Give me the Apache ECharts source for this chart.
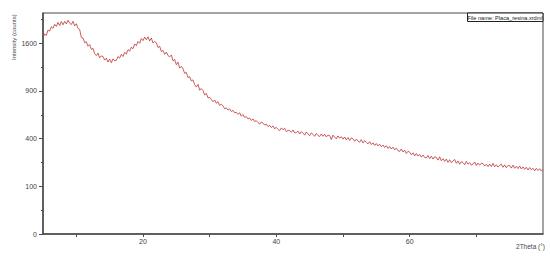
<!DOCTYPE html>
<html>
<head>
<meta charset="utf-8">
<script src="https://cdn.jsdelivr.net/npm/echarts@6/dist/echarts.min.js"></script>
<style>
  html, body { margin: 0; padding: 0; background: #fff; }
  #chart { width: 550px; height: 258px; }
</style>
</head>
<body>
<div id="chart"></div>
<script>
// scan positions (degrees 2Theta), one row per degree
var twoTheta = [
  5, 5.25, 5.5, 5.75, 6, 6.25, 6.5, 6.75, 7, 7.25, 7.5, 7.75, 8, 8.25, 8.5, 8.75, 9, 9.25, 9.5, 9.75,
  10, 10.25, 10.5, 10.75, 11, 11.25, 11.5, 11.75, 12, 12.25, 12.5, 12.75, 13, 13.25, 13.5, 13.75, 14, 14.25, 14.5, 14.75,
  15, 15.25, 15.5, 15.75, 16, 16.25, 16.5, 16.75, 17, 17.25, 17.5, 17.75, 18, 18.25, 18.5, 18.75, 19, 19.25, 19.5, 19.75,
  20, 20.25, 20.5, 20.75, 21, 21.25, 21.5, 21.75, 22, 22.25, 22.5, 22.75, 23, 23.25, 23.5, 23.75, 24, 24.25, 24.5, 24.75,
  25, 25.25, 25.5, 25.75, 26, 26.25, 26.5, 26.75, 27, 27.25, 27.5, 27.75, 28, 28.25, 28.5, 28.75, 29, 29.25, 29.5, 29.75,
  30, 30.25, 30.5, 30.75, 31, 31.25, 31.5, 31.75, 32, 32.25, 32.5, 32.75, 33, 33.25, 33.5, 33.75, 34, 34.25, 34.5, 34.75,
  35, 35.25, 35.5, 35.75, 36, 36.25, 36.5, 36.75, 37, 37.25, 37.5, 37.75, 38, 38.25, 38.5, 38.75, 39, 39.25, 39.5, 39.75,
  40, 40.25, 40.5, 40.75, 41, 41.25, 41.5, 41.75, 42, 42.25, 42.5, 42.75, 43, 43.25, 43.5, 43.75, 44, 44.25, 44.5, 44.75,
  45, 45.25, 45.5, 45.75, 46, 46.25, 46.5, 46.75, 47, 47.25, 47.5, 47.75, 48, 48.25, 48.5, 48.75, 49, 49.25, 49.5, 49.75,
  50, 50.25, 50.5, 50.75, 51, 51.25, 51.5, 51.75, 52, 52.25, 52.5, 52.75, 53, 53.25, 53.5, 53.75, 54, 54.25, 54.5, 54.75,
  55, 55.25, 55.5, 55.75, 56, 56.25, 56.5, 56.75, 57, 57.25, 57.5, 57.75, 58, 58.25, 58.5, 58.75, 59, 59.25, 59.5, 59.75,
  60, 60.25, 60.5, 60.75, 61, 61.25, 61.5, 61.75, 62, 62.25, 62.5, 62.75, 63, 63.25, 63.5, 63.75, 64, 64.25, 64.5, 64.75,
  65, 65.25, 65.5, 65.75, 66, 66.25, 66.5, 66.75, 67, 67.25, 67.5, 67.75, 68, 68.25, 68.5, 68.75, 69, 69.25, 69.5, 69.75,
  70, 70.25, 70.5, 70.75, 71, 71.25, 71.5, 71.75, 72, 72.25, 72.5, 72.75, 73, 73.25, 73.5, 73.75, 74, 74.25, 74.5, 74.75,
  75, 75.25, 75.5, 75.75, 76, 76.25, 76.5, 76.75, 77, 77.25, 77.5, 77.75, 78, 78.25, 78.5, 78.75, 79, 79.25, 79.5, 79.75,
  80
];
// intensity (counts), same rows
var counts = [
  1700, 1760, 1735, 1830, 1810, 1890, 1860, 1935, 1895, 1970, 1910, 1985, 1925, 1990, 1940, 2010, 1955, 1930, 1990, 1905,
  1945, 1860, 1840, 1700, 1690, 1610, 1625, 1550, 1580, 1500, 1515, 1430, 1400, 1440, 1365, 1395, 1385, 1330, 1360, 1300,
  1345, 1290, 1350, 1320, 1325, 1385, 1360, 1420, 1385, 1450, 1425, 1495, 1470, 1535, 1510, 1590, 1560, 1630, 1600, 1680,
  1645, 1705, 1660, 1710, 1640, 1690, 1605, 1630, 1610, 1530, 1550, 1465, 1480, 1420, 1455, 1400, 1380, 1410, 1320, 1340,
  1260, 1300, 1210, 1235, 1200, 1135, 1150, 1075, 1090, 1030, 1045, 980, 950, 985, 910, 930, 905, 850, 870, 815,
  822, 796, 770, 790, 752, 770, 728, 740, 722, 690, 700, 676, 688, 660, 672, 645, 652, 630, 646, 610,
  628, 598, 605, 582, 592, 566, 583, 556, 565, 548, 530, 552, 540, 522, 531, 508, 520, 498, 514, 488,
  500, 482, 470, 495, 478, 492, 460, 473, 470, 455, 476, 450, 452, 466, 440, 462, 447, 430, 458, 441,
  425, 450, 436, 420, 444, 427, 418, 440, 420, 438, 414, 431, 426, 392, 430, 411, 398, 423, 405, 416,
  396, 414, 390, 409, 385, 406, 398, 378, 396, 380, 371, 392, 364, 384, 370, 357, 375, 352, 366, 345,
  360, 341, 355, 335, 348, 329, 343, 322, 337, 318, 332, 312, 324, 305, 300, 318, 296, 310, 285, 301,
  294, 276, 290, 268, 285, 267, 279, 260, 274, 258, 254, 271, 250, 266, 247, 262, 258, 240, 262, 236,
  250, 232, 247, 226, 242, 223, 236, 244, 220, 235, 214, 230, 225, 211, 232, 214, 224, 208, 216, 228,
  206, 221, 208, 220, 218, 203, 214, 200, 215, 200, 219, 199, 211, 197, 207, 214, 196, 210, 193, 206,
  205, 191, 209, 190, 202, 188, 204, 186, 198, 184, 196, 180, 194, 181, 190, 176, 190, 177, 188, 174,
  184
];
var yLabelCounts = [0, 100, 400, 900, 1600];
var yMinorCounts = [25, 225, 625, 1225, 2025];
var xLabelValues = [20, 40, 60];
var xTickValues = [10, 20, 30, 40, 50, 60, 70];

var font = 'Liberation Sans';
var axisGrey = '#4a4a4a';
var labelGrey = '#444';

// square-root intensity scale
var seriesData = twoTheta.map(function(t, i) { return [t, Math.sqrt(counts[i])]; });
var ySqrtMax = 46.35;

var chart = echarts.init(document.getElementById('chart'), null, { renderer: 'svg' });
chart.setOption({
  animation: false,
  grid: {
    left: 43, right: 7, top: 13, bottom: 24,
    show: true, borderColor: axisGrey, borderWidth: 1
  },
  xAxis: {
    type: 'value',
    min: 5,
    max: 80,
    axisLine: { lineStyle: { color: axisGrey, width: 1.5 } },
    axisTick: { customValues: xTickValues, length: 3, lineStyle: { color: axisGrey } },
    axisLabel: { customValues: xLabelValues, color: labelGrey, fontSize: 7, fontFamily: font, margin: 4 },
    splitLine: { show: false }
  },
  yAxis: [
    {
      type: 'value',
      min: 0,
      max: ySqrtMax,
      axisLine: { show: true, lineStyle: { color: axisGrey, width: 1.5 } },
      axisTick: { show: true, customValues: yLabelCounts.map(Math.sqrt), length: 4, lineStyle: { color: axisGrey } },
      axisLabel: {
        customValues: yLabelCounts.map(Math.sqrt),
        color: labelGrey, fontSize: 7, fontFamily: font, margin: 6,
        formatter: function(v) { return String(Math.round(v * v)); }
      },
      splitLine: { show: false }
    },
    {
      type: 'value',
      min: 0,
      max: ySqrtMax,
      position: 'left',
      axisLine: { show: false },
      axisTick: { show: true, customValues: yMinorCounts.map(Math.sqrt), length: 2, lineStyle: { color: axisGrey } },
      axisLabel: { show: false },
      splitLine: { show: false }
    }
  ],
  series: [{
    type: 'line',
    data: seriesData,
    showSymbol: false,
    lineStyle: { color: '#be3434', width: 0.8 }
  }],
  graphic: [
    {
      type: 'text',
      x: 14, y: 60, rotation: Math.PI / 2,
      style: { text: 'Intensity (counts)', fill: labelGrey, font: '6px ' + font, align: 'left', verticalAlign: 'middle' }
    },
    {
      type: 'text',
      x: 545, y: 246,
      style: { text: '2Theta (°)', fill: labelGrey, font: '6.5px ' + font, align: 'right', verticalAlign: 'middle' }
    },
    {
      type: 'rect',
      shape: { x: 467.5, y: 13, width: 75.5, height: 8.5 },
      style: { fill: '#fff', stroke: '#222', lineWidth: 1 }
    },
    {
      type: 'text',
      x: 505, y: 17.5,
      style: { text: 'File name: Placa_resina.xrdml', fill: '#222', font: '5.6px ' + font, align: 'center', verticalAlign: 'middle' }
    }
  ]
});
</script>
</body>
</html>
